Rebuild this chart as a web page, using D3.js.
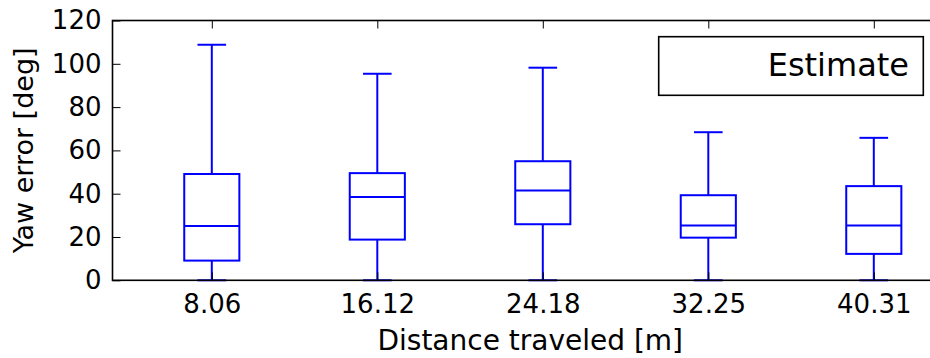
<!DOCTYPE html>
<html>
<head>
<meta charset="utf-8">
<script src="https://cdn.jsdelivr.net/npm/d3@7"></script>
<style>
  html, body { margin: 0; padding: 0; background: #fff; }
  svg { display: block; font-family: "DejaVu Sans", sans-serif; }
</style>
</head>
<body>
<svg id="chart" width="930" height="358"></svg>
<script>
// ---- data ----
const categories = ["8.06", "16.12", "24.18", "32.25", "40.31"];
const whiskerLow = [0, 0, 0, 0, 0];
const q1 = [9.1, 18.8, 25.9, 19.7, 12.2];
const median = [25.1, 38.5, 41.5, 25.3, 25.3];
const q3 = [49.1, 49.5, 55.0, 39.3, 43.5];
const whiskerHigh = [108.8, 95.4, 98.2, 68.4, 65.8];
const yTicks = [0, 20, 40, 60, 80, 100, 120];
const legendLabel = "Estimate";
const xLabel = "Distance traveled [m]";
const yLabel = "Yaw error [deg]";

// ---- layout ----
const plot = { left: 112.5, right: 940, top: 20.5, bottom: 280.3 };
const svg = d3.select("#chart");

const positions = categories.map((c, i) => i + 1);
const x = d3.scaleLinear().domain([0.4, 5.4]).range([plot.left, plot.right]);
const y = d3.scaleLinear().domain([0, 120]).range([plot.bottom, plot.top]);

const boxW = 0.333, capW = 0.173;
const blue = "#0000ff";

const data = categories.map((c, i) => ({
  pos: positions[i], lo: whiskerLow[i], q1: q1[i], med: median[i], q3: q3[i], hi: whiskerHigh[i]
}));

const g = svg.append("g");
const boxes = g.selectAll("g.box").data(data).enter().append("g").attr("class", "box")
  .attr("stroke", blue).attr("stroke-width", 2).attr("fill", "none");

// whiskers
boxes.append("line").attr("x1", d => x(d.pos)).attr("x2", d => x(d.pos))
  .attr("y1", d => y(d.q3)).attr("y2", d => y(d.hi));
boxes.append("line").attr("x1", d => x(d.pos)).attr("x2", d => x(d.pos))
  .attr("y1", d => y(d.q1)).attr("y2", d => y(d.lo));
// caps
boxes.append("line").attr("x1", d => x(d.pos - capW / 2)).attr("x2", d => x(d.pos + capW / 2))
  .attr("y1", d => y(d.hi)).attr("y2", d => y(d.hi));
boxes.append("line").attr("x1", d => x(d.pos - capW / 2)).attr("x2", d => x(d.pos + capW / 2))
  .attr("y1", d => y(d.lo)).attr("y2", d => y(d.lo));
// box
boxes.append("rect").attr("x", d => x(d.pos - boxW / 2)).attr("width", d => x(d.pos + boxW / 2) - x(d.pos - boxW / 2))
  .attr("y", d => y(d.q3)).attr("height", d => y(d.q1) - y(d.q3));
// median
boxes.append("line").attr("x1", d => x(d.pos - boxW / 2)).attr("x2", d => x(d.pos + boxW / 2))
  .attr("y1", d => y(d.med)).attr("y2", d => y(d.med));

// ---- axes ----
const tickFont = 26;
const xAxisB = d3.axisBottom(x).tickValues(positions).tickFormat((d, i) => categories[i])
  .tickSizeInner(-8).tickSizeOuter(0).tickPadding(14);
const xAxisT = d3.axisTop(x).tickValues(positions).tickFormat("")
  .tickSizeInner(-8).tickSizeOuter(0);
const yAxisL = d3.axisLeft(y).tickValues(yTicks).tickFormat(d3.format("d"))
  .tickSizeInner(-8).tickSizeOuter(0).tickPadding(11);

function styleAxis(sel) {
  sel.select(".domain").remove();
  sel.selectAll(".tick line").attr("stroke", "#000").attr("stroke-width", 1);
  sel.selectAll(".tick text").attr("fill", "#000").attr("font-size", tickFont)
    .attr("font-family", "DejaVu Sans, sans-serif");
}
const gxb = svg.append("g").attr("transform", `translate(0,${plot.bottom})`).call(xAxisB).call(styleAxis);
gxb.selectAll(".tick text").attr("dy", "0.71em");
svg.append("g").attr("transform", `translate(0,${plot.top})`).call(xAxisT).call(styleAxis);
const gyl = svg.append("g").attr("transform", `translate(${plot.left},0)`).call(yAxisL).call(styleAxis);

// frame (spines)
svg.append("rect").attr("x", plot.left).attr("y", plot.top)
  .attr("width", plot.right - plot.left).attr("height", plot.bottom - plot.top)
  .attr("fill", "none").attr("stroke", "#000").attr("stroke-width", 1.6);

// axis labels
svg.append("text").attr("x", (plot.left + plot.right) / 2 + 4).attr("y", 350)
  .attr("text-anchor", "middle").attr("font-size", 28).attr("fill", "#000").text(xLabel);
svg.append("text").attr("transform", `translate(33,${(plot.top + plot.bottom) / 2}) rotate(-90)`)
  .attr("text-anchor", "middle").attr("font-size", 27).attr("fill", "#000").text(yLabel);

// legend
const leg = svg.append("g");
leg.append("rect").attr("x", 658.7).attr("y", 36.7).attr("width", 264.6).attr("height", 58.6)
  .attr("fill", "#fff").attr("stroke", "#000").attr("stroke-width", 1.6);
leg.append("text").attr("x", 909).attr("y", 75.5).attr("text-anchor", "end")
  .attr("font-size", 32).attr("fill", "#000").text(legendLabel);
</script>
</body>
</html>
